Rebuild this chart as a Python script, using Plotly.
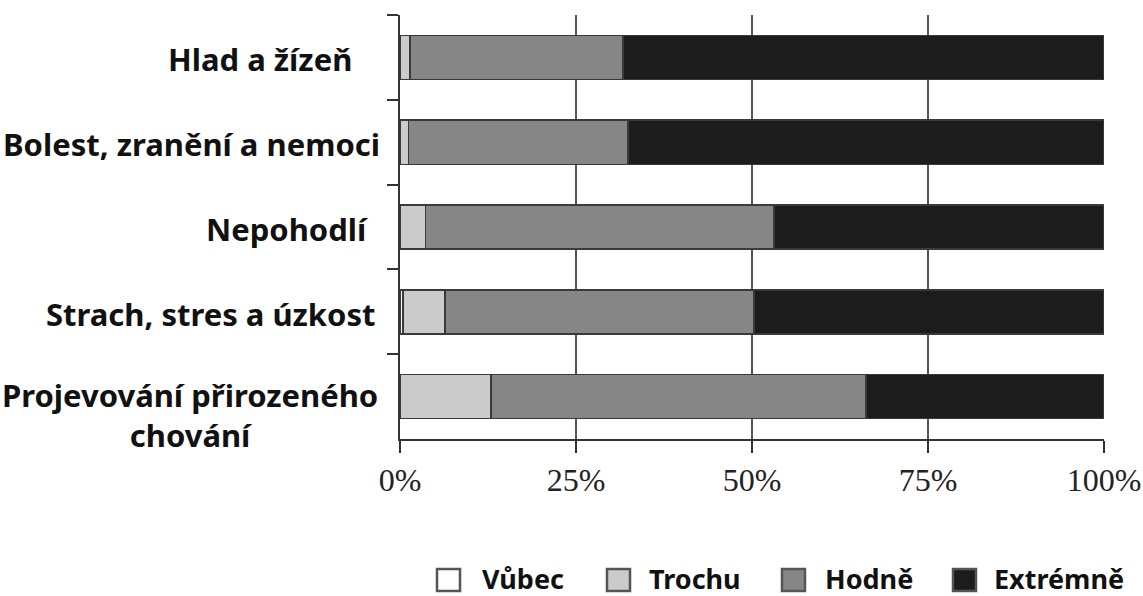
import plotly.graph_objects as go

categories = ["Hlad a žízeň", "Bolest, zranění a nemoci", "Nepohodlí",
              "Strach, stres a úzkost", "Projevování přirozeného chování"]
series_names = ["Vůbec", "Trochu", "Hodně", "Extrémně"]
vubec = [0.0, 0.0, 0.0, 0.4, 0.0]
trochu = [1.4, 1.2, 3.6, 6.0, 12.9]
hodne = [30.3, 31.2, 49.5, 43.9, 53.3]
extremne = [68.3, 67.6, 46.9, 49.7, 33.8]
tick_vals = [0, 25, 50, 75, 100]
tick_text = ["0%", "25%", "50%", "75%", "100%"]

colors = ["#ffffff", "#cbcbcb", "#868686", "#1c1c1c"]
values = [vubec, trochu, hodne, extremne]

L, R, T, B = 400, 39, 15, 157
W, H = 1143, 596
PW, PH = W - L - R, H - T - B


def px_x(px):
    return (px - L) / PW


def px_y(py):
    return (H - B - py) / PH


fig = go.Figure()
for name, vals, col in zip(series_names, values, colors):
    fig.add_trace(go.Bar(
        y=categories, x=vals, name=name, orientation="h",
        marker=dict(color=col, line=dict(color="#3a3a3a", width=1.5)),
        width=0.52, showlegend=False,
    ))

fig.update_layout(
    barmode="stack",
    width=W, height=H,
    margin=dict(l=L, r=R, t=T, b=B, autoexpand=False),
    plot_bgcolor="white", paper_bgcolor="white",
    showlegend=False,
    font=dict(family="Noto Sans"),
)
fig.update_xaxes(
    range=[0, 100], tickvals=tick_vals, ticktext=tick_text,
    showgrid=True, gridcolor="#555555", gridwidth=1.5,
    showline=True, linecolor="#333333", linewidth=2,
    ticks="outside", ticklen=12, tickcolor="#333333", tickwidth=1.5,
    tickfont=dict(family="Liberation Serif", size=32, color="#222222"),
    zeroline=False, fixedrange=True, automargin=False,
)
fig.update_yaxes(
    autorange="reversed", showticklabels=False,
    showline=True, linecolor="#333333", linewidth=2,
    ticks="outside", ticklen=11, tickcolor="#333333", tickwidth=1.5,
    tickson="boundaries", showgrid=False, fixedrange=True, automargin=False,
)

label_font = dict(family="Noto Sans", size=31, color="#111111", weight="bold")
label_right = [354, 382, 370, 377]
for xr, cat in zip(label_right, categories[:4]):
    fig.add_annotation(text=cat, x=px_x(xr), xref="paper", y=cat, yref="y",
                       xanchor="right", yanchor="middle", showarrow=False,
                       font=label_font, yshift=-2)
fig.add_annotation(text="Projevování přirozeného<br>chování", x=px_x(380), xref="paper",
                   y=categories[4], yref="y", yshift=-18, xanchor="right",
                   yanchor="middle", align="center", showarrow=False, font=label_font)

# legend drawn manually
legend_sq_left = [437, 607, 782, 953]
legend_text_left = [480, 647, 823, 992]
sq_w, sq_top, sq_bot = 23, 569, 591
legend_font = dict(family="Noto Sans", size=27, color="#111111", weight="bold")
for name, col, sx, tx in zip(series_names, colors, legend_sq_left, legend_text_left):
    fig.add_shape(type="rect", xref="paper", yref="paper",
                  x0=px_x(sx), x1=px_x(sx + sq_w), y0=px_y(sq_bot), y1=px_y(sq_top),
                  fillcolor=col, line=dict(color="#555555", width=2.5))
    fig.add_annotation(text=name, x=px_x(tx), xref="paper", y=px_y(578), yref="paper",
                       xanchor="left", yanchor="middle", showarrow=False, font=legend_font)

fig.write_html("out.html", config={"displayModeBar": False},
               post_script="document.body.style.margin='0';document.body.style.padding='0';")
